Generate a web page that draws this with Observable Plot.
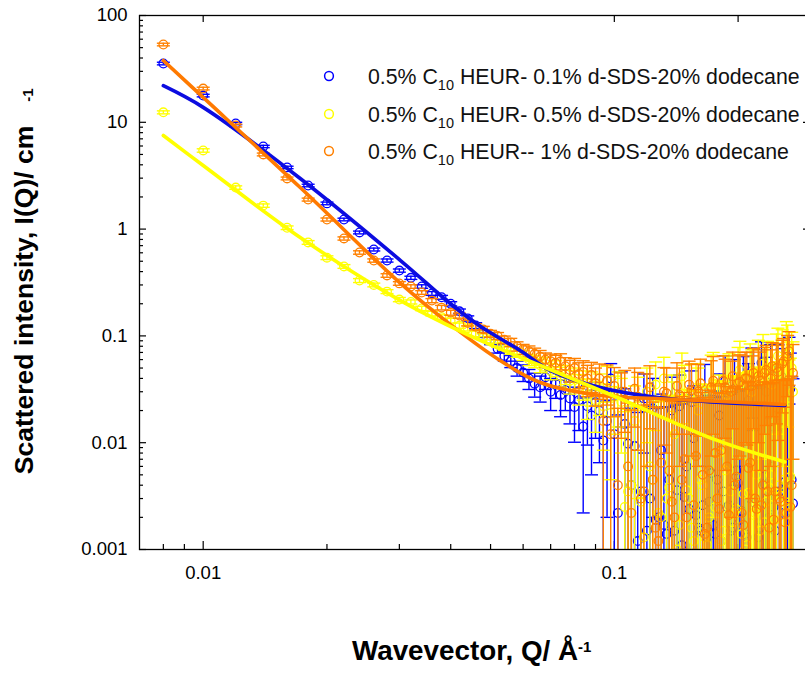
<!DOCTYPE html>
<html><head><meta charset="utf-8">
<script src="https://cdn.jsdelivr.net/npm/d3@7"></script>
<script src="https://cdn.jsdelivr.net/npm/@observablehq/plot@0.6"></script>
<style>
html,body{margin:0;padding:0;overflow:hidden;background:#fff;width:805px;height:673px;}
#chart svg{display:block;max-width:none;}
</style></head><body><div id="chart"></div>
<script>
// ---- data ----
const q = [
 0.008,0.010,0.012,0.014,0.016,0.018,0.020,0.022,0.024,0.026,0.028,0.030,0.032,0.034,0.036,0.038,0.040,0.042,0.044,0.046,0.048,0.050,
 0.052,0.054,0.056,0.058,0.060,0.062,0.064,0.066,0.068,0.070,0.072,0.074,0.076,0.078,0.080,0.082,0.084,0.086,0.088,0.090,0.092,0.094,0.096,0.098,0.100,
 0.104,0.108,0.112,0.116,0.120,0.124,0.128,0.132,0.136,0.140,0.144,0.148,0.152,0.156,0.160,0.164,0.168,0.172,0.176,0.180,0.184,0.188,0.192,0.196,0.200,0.204,0.208,0.212,0.216,0.220,0.224,0.228,0.232,0.236,0.240,0.244,0.248,0.252,0.256,0.260,0.264,0.268,0.272
];
const blueI = [
 35.5,17.8,9.75,5.94,3.78,2.56,1.74,1.23,0.93,0.644,0.508,0.409,0.35,0.29,0.25,0.23,0.20,0.17,0.146,0.125,0.105,0.09,
 0.076,0.065,0.058,0.050,0.0454,0.040,0.0357,0.033,0.041,0.030,0.036,0.028,0.031,0.026,0.0216,0.025,0.0142,0.022,0.018,0.024,0.020,0.0105,0.016,0.040,0.012,
 0.030,0.0098,0.0093,0.0035,0.0015,0.021,0.0020,0.0017,0.0045,0.0015,0.022,0.0031,0.0024,0.011,0.0016,0.0026,0.0013,0.0052,0.0014,0.018,0.0035,0.0025,0.0015,0.032,0.0042,0.0023,0.0014,0.025,0.047,0.0027,0.0013,0.056,0.0041,0.0030,0.050,0.0025,0.018,0.0035,0.041,0.0043,0.0023,0.032,0.0027
];
const blueErr = [
 1.0,0.5,0.25,0.15,0.1,0.07,0.05,0.035,0.028,0.02,0.017,0.014,0.012,0.011,0.01,0.0095,0.009,0.0085,0.008,0.0078,0.0075,0.0072,
 0.007,0.007,0.0075,0.008,0.008,0.0085,0.009,0.009,0.0095,0.01,0.01,0.0105,0.011,0.011,0.0115,0.012,0.012,0.0125,0.013,0.013,0.0135,0.014,0.014,0.015,0.015,
 0.016,0.017,0.017,0.018,0.018,0.019,0.019,0.02,0.02,0.021,0.021,0.022,0.022,0.023,0.023,0.024,0.024,0.025,0.025,0.026,0.026,0.027,0.027,0.028,0.028,0.029,0.029,0.03,0.03,0.031,0.031,0.032,0.032,0.033,0.033,0.034,0.034,0.035,0.035,0.036,0.036,0.037,0.037
];
const yellowI = [
 12.4,5.45,2.45,1.66,1.03,0.75,0.54,0.447,0.330,0.30,0.26,0.219,0.208,0.181,0.162,0.15,0.139,0.125,0.118,0.105,0.098,0.092,
 0.085,0.080,0.074,0.070,0.066,0.060,0.058,0.053,0.055,0.047,0.050,0.042,0.044,0.038,0.040,0.033,0.036,0.028,0.034,0.025,0.031,0.022,0.038,0.019,0.027,
 0.024,0.0035,0.016,0.0028,0.030,0.0045,0.0022,0.040,0.0038,0.012,0.0017,0.026,0.0030,0.0012,0.020,0.0040,0.0011,0.033,0.0025,0.008,0.0015,0.028,0.0035,0.0022,0.038,0.0014,0.0010,0.0034,0.030,0.0022,0.045,0.0026,0.0018,0.040,0.0050,0.0031,0.052,0.0040,0.060,0.0028,0.070,0.0048,0.030
];
const yellowErr = [
 0.4,0.2,0.09,0.06,0.04,0.03,0.022,0.018,0.014,0.012,0.011,0.01,0.009,0.0085,0.008,0.0075,0.007,0.007,0.0068,0.0066,0.0065,0.0064,
 0.0065,0.0066,0.0068,0.007,0.0072,0.0074,0.0076,0.0078,0.008,0.0082,0.0085,0.0088,0.009,0.0095,0.01,0.0105,0.011,0.0115,0.012,0.0125,0.013,0.0135,0.014,0.0145,0.015,
 0.016,0.017,0.018,0.019,0.02,0.021,0.022,0.023,0.024,0.025,0.026,0.027,0.028,0.029,0.03,0.031,0.032,0.033,0.034,0.035,0.036,0.037,0.038,0.039,0.04,0.041,0.042,0.043,0.044,0.045,0.046,0.047,0.048,0.049,0.05,0.051,0.052,0.053,0.054,0.055,0.056,0.057,0.058
];
const orangeI = [
 53.5,20.7,9.33,5.0,2.98,1.89,1.23,0.817,0.604,0.508,0.368,0.310,0.290,0.255,0.214,0.184,0.165,0.155,0.132,0.122,0.115,0.105,
 0.100,0.092,0.087,0.080,0.075,0.072,0.068,0.064,0.060,0.058,0.056,0.058,0.052,0.048,0.050,0.044,0.046,0.040,0.043,0.036,0.040,0.016,0.038,0.012,0.034,
 0.028,0.0060,0.032,0.0030,0.025,0.0045,0.0012,0.030,0.0055,0.0020,0.028,0.0070,0.035,0.0026,0.030,0.0050,0.0016,0.033,0.0080,0.0024,0.038,0.0060,0.030,0.0040,0.036,0.0022,0.040,0.0058,0.034,0.0030,0.042,0.0026,0.045,0.0035,0.040,0.0019,0.050,0.0030,0.055,0.0018,0.064,0.0025,0.045
];
const orangeErr = [
 1.5,0.6,0.28,0.15,0.09,0.06,0.04,0.028,0.022,0.018,0.014,0.012,0.011,0.01,0.0095,0.009,0.0088,0.0085,0.0082,0.008,0.0078,0.0076,
 0.0075,0.0076,0.0078,0.008,0.0082,0.0085,0.0088,0.009,0.0092,0.0095,0.0098,0.01,0.0105,0.011,0.0115,0.012,0.0125,0.013,0.0135,0.014,0.0145,0.015,0.0155,0.016,0.0165,
 0.017,0.0175,0.018,0.0185,0.019,0.0195,0.02,0.0205,0.021,0.0215,0.022,0.0225,0.023,0.0235,0.024,0.0245,0.025,0.0255,0.026,0.0265,0.027,0.0275,0.028,0.0285,0.029,0.0295,0.03,0.0305,0.031,0.0315,0.032,0.0325,0.033,0.0335,0.034,0.0345,0.035,0.0355,0.036,0.0365,0.037,0.0375,0.038
];
// interleaved high-Q points (between the ones above)
const q2 = [0.102,0.106,0.110,0.114,0.118,0.122,0.126,0.130,0.134,0.138,0.142,0.146,0.150,0.154,0.158,0.162,0.166,0.170,0.174,0.178,0.182,0.186,0.190,0.194,0.198,0.202,0.206,0.210,0.214,0.218,0.222,0.226,0.230,0.234,0.238,0.242,0.246,0.250,0.254,0.258,0.262,0.266,0.270];
const blueI2 = [0.0022,0.015,0.0040,0.0012,0.026,0.0030,0.0019,0.0085,0.0014,0.020,0.0036,0.0011,0.0060,0.024,0.0021,0.0015,0.030,0.0028,0.0017,0.0045,0.0012,0.038,0.0026,0.0016,0.0055,0.0019,0.035,0.0013,0.0030,0.044,0.0024,0.0016,0.0048,0.030,0.0020,0.0060,0.0015,0.048,0.0033,0.0022,0.0040,0.060,0.0045];
const yellowI2 = [0.030,0.0025,0.0040,0.022,0.0013,0.0060,0.035,0.0020,0.0030,0.018,0.0010,0.042,0.0036,0.0016,0.025,0.0045,0.0013,0.0020,0.036,0.0030,0.0012,0.0055,0.030,0.0018,0.0024,0.048,0.0033,0.0011,0.040,0.0021,0.0050,0.0015,0.055,0.0028,0.0038,0.035,0.0019,0.065,0.0032,0.0045,0.080,0.0026,0.050];
const orangeI2 = [0.0040,0.030,0.0022,0.027,0.0035,0.033,0.0016,0.0065,0.029,0.0028,0.034,0.0045,0.0020,0.031,0.0075,0.036,0.0014,0.0055,0.038,0.0030,0.0085,0.033,0.0021,0.042,0.0048,0.037,0.0017,0.040,0.0065,0.045,0.0024,0.038,0.0040,0.048,0.0016,0.052,0.0035,0.046,0.0028,0.058,0.0022,0.072,0.0040];

// fitted model curves
const blueFitQ = [0.008,0.010,0.01722,0.0302,0.0399,0.0472,0.0590,0.0699,0.0924,0.1276,0.1817,0.26];
const blueFitI = [22.0,13.8,2.98,0.508,0.201,0.123,0.073,0.0474,0.0329,0.0265,0.0238,0.0223];
const orangeFitQ = [0.008,0.010,0.01722,0.0302,0.0399,0.0527,0.0661,0.0924,0.1292,0.1817,0.26];
const orangeFitI = [37.9,17.1,2.45,0.310,0.128,0.0589,0.0366,0.0277,0.0258,0.0243,0.0228];
const yellowFitQ = [0.008,0.010,0.01722,0.0302,0.0472,0.0661,0.1017,0.1779,0.26];
const yellowFitI = [7.52,3.94,0.834,0.214,0.0906,0.0528,0.0265,0.0105,0.0066];

const legendPre = ["0.5% C","0.5% C","0.5% C"];
const legendSub = ["10","10","10"];
const legendPost = [" HEUR- 0.1% d-SDS-20% dodecane"," HEUR- 0.5% d-SDS-20% dodecane"," HEUR-- 1% d-SDS-20% dodecane"];
const dotColors = ["#0000ff","#ffff00","#ff8000"];
const fitColors = ["#0c0ce0","#ffff00","#ff7a00"];

const xTickValues = [0.01, 0.1];
const xTickLabels = ["0.01", "0.1"];
const yTickValues = [100, 10, 1, 0.1, 0.01, 0.001];
const yTickLabels = ["100", "10", "1", "0.1", "0.01", "0.001"];
const xMinor = [0.008,0.009,0.02,0.03,0.04,0.05,0.06,0.07,0.08,0.09,0.2];
const xTopTicks = [0.01,0.1,0.2];
const yMinor = [];
for (const d of [0.001,0.01,0.1,1,10]) for (let k = 2; k <= 9; k++) yMinor.push(+(d*k).toPrecision(3));

// ---- build ----
function rows(I, err, I2) {
  const r = q.map((qq, i) => ({q: qq, I: I[i], e: err[i]}));
  // interleaved points: error estimated like the neighbouring high-Q point
  q2.forEach((qq, j) => r.push({q: qq, I: I2[j], e: err[47 + j]}));
  r.sort((a, b) => a.q - b.q);
  return r.map(d => ({q: d.q, I: d.I, hi: d.I + d.e, lo: d.I - d.e > 0 ? d.I - d.e : 1e-6}));
}
const series = [rows(blueI, blueErr, blueI2), rows(yellowI, yellowErr, yellowI2), rows(orangeI, orangeErr, orangeI2)];
const fits = [
  blueFitQ.map((x, i) => ({q: x, I: blueFitI[i]})),
  orangeFitQ.map((x, i) => ({q: x, I: orangeFitI[i]})),
  yellowFitQ.map((x, i) => ({q: x, I: yellowFitI[i]}))
];
const fitCols = [fitColors[0], fitColors[2], fitColors[1]];

const cap = {draw(ctx, size) { const w = Math.sqrt(size / Math.PI); ctx.moveTo(-w, 0); ctx.lineTo(w, 0); }};

const W = 812, H = 673, mL = 139, mR = 2, mT = 15, mB = 124;
const FW = W - mL - mR, FH = H - mT - mB;

const marks = [];
series.forEach((data, s) => {
  const c = dotColors[s];
  marks.push(Plot.ruleX(data, {x: "q", y1: "lo", y2: "hi", stroke: c, strokeWidth: 1.4, clip: true}));
  marks.push(Plot.dot(data, {x: "q", y: "hi", symbol: cap, r: 6.5, stroke: c, fill: "none", strokeWidth: 1.4, clip: true}));
  marks.push(Plot.dot(data, {x: "q", y: "lo", symbol: cap, r: 6.5, stroke: c, fill: "none", strokeWidth: 1.4, clip: true}));
  marks.push(Plot.dot(data, {x: "q", y: "I", r: 4.3, stroke: c, fill: "none", strokeWidth: 1.3, clip: true}));
});
fits.forEach((f, s) => {
  marks.push(Plot.line(f, {x: "q", y: "I", stroke: fitCols[s], strokeWidth: 3.6, curve: "catmull-rom", clip: true}));
});

const chart = Plot.plot({
  width: W, height: H,
  marginLeft: mL, marginRight: mR, marginTop: mT, marginBottom: mB,
  style: {fontFamily: "'Liberation Sans', Arial, sans-serif", fontSize: "18.5px", color: "black", background: "white", maxWidth: "none"},
  x: {type: "log", domain: [0.007, 0.3], label: null},
  y: {type: "log", domain: [0.001, 100], label: null},
  marks: [
    Plot.tickX(xMinor, {x: d => d, insetTop: FH - 5, stroke: "black", strokeWidth: 1.2}),
    Plot.tickX(xTickValues, {x: d => d, insetTop: FH - 8, stroke: "black", strokeWidth: 1.2}),
    Plot.tickX(xTopTicks, {x: d => d, insetBottom: FH - 7, stroke: "black", strokeWidth: 1.2}),
    Plot.tickY(yMinor, {y: d => d, insetRight: FW - 4, stroke: "black", strokeWidth: 1.2}),
    Plot.tickY(yTickValues, {y: d => d, insetRight: FW - 7, stroke: "black", strokeWidth: 1.2}),
    Plot.tickY(yTickValues, {y: d => d, insetLeft: FW - 7, stroke: "black", strokeWidth: 1.2}),
    ...marks,
    Plot.frame({stroke: "black", strokeWidth: 1.3}),
    Plot.axisX(xTickValues, {tickSize: 0, tickPadding: 16, fontSize: 18.5, tickFormat: d => xTickLabels[xTickValues.indexOf(d)]}),
    Plot.axisY(yTickValues, {tickSize: 0, tickPadding: 12, fontSize: 18.5, tickFormat: d => yTickLabels[yTickValues.indexOf(d)]})
  ]
});
chart.style.maxWidth = "none";
document.getElementById("chart").appendChild(chart);

// ---- titles and legend ----
const svg = d3.select(chart);
const ff = "'Liberation Sans', Arial, sans-serif";
const xl = svg.append("text").attr("x", 352).attr("y", 660).attr("text-anchor", "start").attr("font-family", ff).attr("font-weight", "bold").attr("font-size", 27.8).attr("fill", "black");
xl.append("tspan").text("Wavevector, Q/ Å");
xl.append("tspan").attr("font-size", 15).attr("dy", -8).text("-1");

svg.append("text").attr("transform", "translate(33,300) rotate(-90)").attr("text-anchor", "middle")
  .attr("font-family", ff).attr("font-weight", "bold").attr("font-size", 26.5).attr("fill", "black")
  .text("Scattered intensity, I(Q)/ cm");
svg.append("text").attr("transform", "translate(33,95) rotate(-90)").attr("text-anchor", "middle")
  .attr("font-family", ff).attr("font-weight", "bold").attr("font-size", 15).attr("fill", "black")
  .text("-1");

const legY = [76, 114, 151];
legY.forEach((y, i) => {
  svg.append("circle").attr("cx", 329).attr("cy", y).attr("r", 4.4).attr("fill", "none").attr("stroke", dotColors[i]).attr("stroke-width", 1.5);
  const t = svg.append("text").attr("x", 368).attr("y", y + 7.5).attr("text-anchor", "start").attr("font-family", ff).attr("font-size", 21.3).attr("fill", "#111");
  t.append("tspan").text(legendPre[i]);
  t.append("tspan").attr("font-size", 14.5).attr("dy", 6).text(legendSub[i]);
  t.append("tspan").attr("dy", -6).text(legendPost[i]);
});
</script>
</body></html>
